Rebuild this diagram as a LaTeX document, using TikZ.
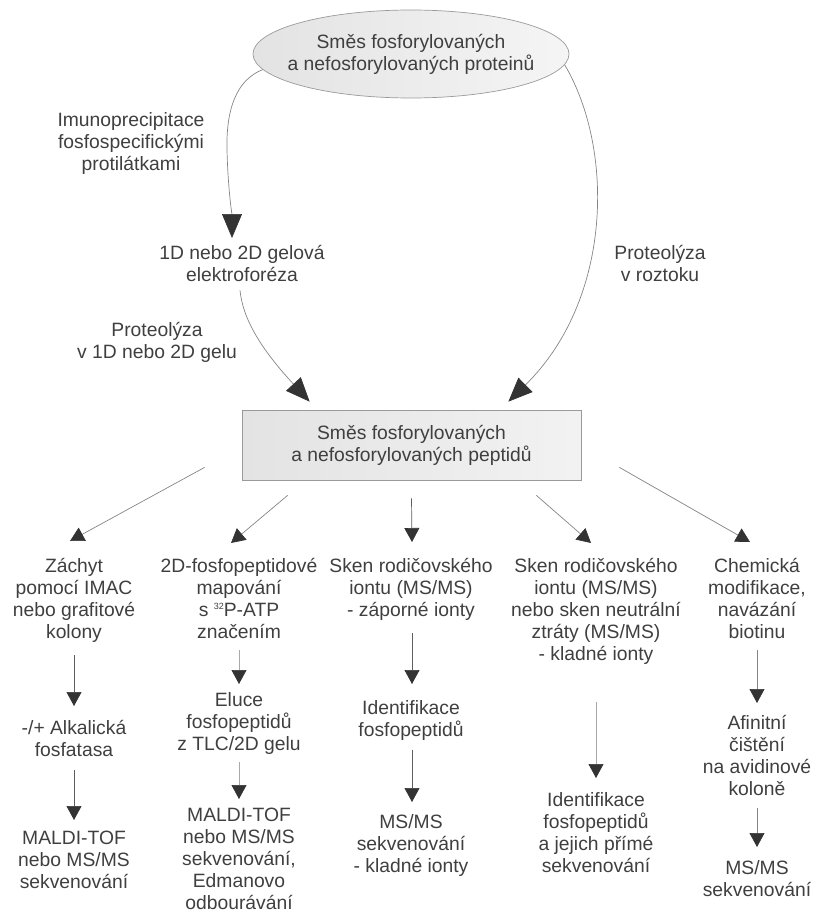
\documentclass[tikz,border=0pt]{standalone}
\usepackage{fontspec}
\setmainfont{Liberation Sans}
\usetikzlibrary{arrows.meta,shapes.geometric}
\definecolor{txt}{HTML}{3F3F3F}
\definecolor{lnd}{HTML}{5E5E5E}
\definecolor{lnl}{HTML}{A8A8A8}
\definecolor{lnm}{HTML}{858585}
\definecolor{hd}{HTML}{333333}
\definecolor{bd}{HTML}{9A9A9A}
\newcommand\upst{\rule{0pt}{19pt}}
\newcommand\dnst{\rule[-5pt]{0pt}{5pt}}
\newcommand\supn[1]{{\fontsize{9}{9}\selectfont\raisebox{7pt}{#1}}}
\begin{document}
\begin{tikzpicture}[x=1pt,y=-1pt,
  lbl/.style={anchor=north, align=center, inner sep=0pt, text=txt,
    font=\fontsize{19.3}{22}\selectfont},
  ctr/.style={align=center, inner sep=0pt, text=txt,
    font=\fontsize{19.3}{22}\selectfont},
  conn/.style={line width=0.7pt},
  bigarr/.style={conn, -{Triangle[length=24pt,width=20pt,color=hd]}},
  smallarr/.style={conn, -{Triangle[length=14pt,width=15pt,color=hd]}}
]
\useasboundingbox (0,0) rectangle (813,912);

% top ellipse
\node[ellipse, draw=bd, line width=0.7pt, minimum width=316pt, minimum height=88pt,
  inner sep=0pt, left color=black!11, middle color=white, right color=black!4] (ell) at (411,54) {};
\node[ctr] (ellt) at (ell.center) {Směs fosforylovaných\\a nefosforylovaných proteinů};

% upper labels
\node[lbl] (imuno) at (131,107) {\upst Imunoprecipitace\\fosfospecifickými\\protilátkami\dnst};
\node[lbl] (gel) at (242,240) {\upst 1D nebo 2D gelová\\elektroforéza\dnst};
\node[lbl] (prot1) at (157,317) {\upst Proteolýza\\v 1D nebo 2D gelu\dnst};
\node[lbl] (prot2) at (660,240) {\upst Proteolýza\\v roztoku\dnst};

% central box
\node[ctr, rectangle, draw=bd, line width=0.7pt, minimum width=339pt, minimum height=70pt,
  left color=black!11, middle color=white, right color=black!5] (box) at (411.5,445)
  {Směs fosforylovaných\\a nefosforylovaných peptidů};

% columns
\node[lbl] (c1a) at (74,553) {\upst Záchyt\\pomocí IMAC\\nebo grafitové\\kolony\dnst};
\node[lbl] (c1b) at (74,715) {\upst -/+ Alkalická\\fosfatasa\dnst};
\node[lbl] (c1c) at (74,825) {\upst MALDI-TOF\\nebo MS/MS\\sekvenování\dnst};

\node[lbl] (c2a) at (239,553) {\upst 2D-fosfopeptidové\\mapování\\s \supn{32}P-ATP\\značením\dnst};
\node[lbl] (c2b) at (239,687) {\upst Eluce\\fosfopeptidů\\z TLC/2D gelu\dnst};
\node[lbl] (c2c) at (239,802) {\upst MALDI-TOF\\nebo MS/MS\\sekvenování,\\Edmanovo\\odbourávání\dnst};

\node[lbl] (c3a) at (411,553) {\upst Sken rodičovského\\iontu (MS/MS)\\- záporné ionty\dnst};
\node[lbl] (c3b) at (411,695) {\upst Identifikace\\fosfopeptidů\dnst};
\node[lbl] (c3c) at (411,809) {\upst MS/MS\\sekvenování\\- kladné ionty\dnst};

\node[lbl] (c4a) at (596,553) {\upst Sken rodičovského\\iontu (MS/MS)\\nebo sken neutrální\\ztráty (MS/MS)\\- kladné ionty\dnst};
\node[lbl] (c4b) at (596,787) {\upst Identifikace\\fosfopeptidů\\a jejich přímé\\sekvenování\dnst};

\node[lbl] (c5a) at (757,553) {\upst Chemická\\modifikace,\\navázání\\biotinu\dnst};
\node[lbl] (c5b) at (757,710) {\upst Afinitní\\čištění\\na avidinové\\koloně\dnst};
\node[lbl] (c5c) at (757,855) {\upst MS/MS\\sekvenování\dnst};

% top curves
\draw[bigarr, draw=lnm] (ell.186) .. controls (236,80) and (226,110) .. (227,150)
  .. controls (228,190) and (232,215) .. ([xshift=-10pt,yshift=2pt]gel.north);
\draw[bigarr, draw=lnm] ([xshift=-2pt,yshift=-4pt]gel.south) .. controls (243,320) and (262,350)
  .. ([xshift=68pt,yshift=8pt]box.north west);
\draw[bigarr, draw=lnm] (ell.-4) .. controls (615,150) and (612,300)
  .. ([xshift=-73pt,yshift=8pt]box.north east);

% fan out from box
\draw[smallarr, draw=lnm] ([xshift=-37pt,yshift=13pt]box.south west) -- ([xshift=-4pt,yshift=12pt]c1a.north);
\draw[smallarr, draw=lnm] ([xshift=46pt,yshift=-15pt]box.south west) -- ([xshift=-8pt,yshift=10pt]c2a.north);
\draw[smallarr, draw=lnd] ([yshift=-18pt]box.south) -- ([xshift=1pt,yshift=11pt]c3a.north);
\draw[smallarr, draw=lnm] ([xshift=-45pt,yshift=-15pt]box.south east) -- ([xshift=-5pt,yshift=10pt]c4a.north);
\draw[smallarr, draw=lnm] ([xshift=38pt,yshift=13pt]box.south east) -- ([xshift=-7pt,yshift=11pt]c5a.north);

% column arrows
\draw[smallarr, draw=lnd] ([yshift=-12pt]c1a.south) -- ([yshift=9pt]c1b.north);
\draw[smallarr, draw=lnd] ([yshift=-9pt]c1b.south) -- ([yshift=5pt]c1c.north);
\draw[smallarr, draw=lnl] ([yshift=-7pt]c2a.south) -- ([yshift=3pt]c2b.north);
\draw[smallarr, draw=lnl] ([yshift=-7pt]c2b.south) -- ([yshift=3pt]c2c.north);
\draw[smallarr, draw=lnd] ([xshift=1pt,yshift=-12pt]c3a.south) -- ([xshift=1pt,yshift=11pt]c3b.north);
\draw[smallarr, draw=lnd] ([xshift=1pt,yshift=-9pt]c3b.south) -- ([xshift=1pt,yshift=7pt]c3c.north);
\draw[smallarr, draw=lnl] ([yshift=-37pt]c4a.south) -- ([yshift=9pt]c4b.north);
\draw[smallarr, draw=lnm] ([yshift=-7pt]c5a.south) -- ([yshift=7pt]c5b.north);
\draw[smallarr, draw=lnm] ([yshift=-8pt]c5b.south) -- ([yshift=8pt]c5c.north);
\end{tikzpicture}
\end{document}
